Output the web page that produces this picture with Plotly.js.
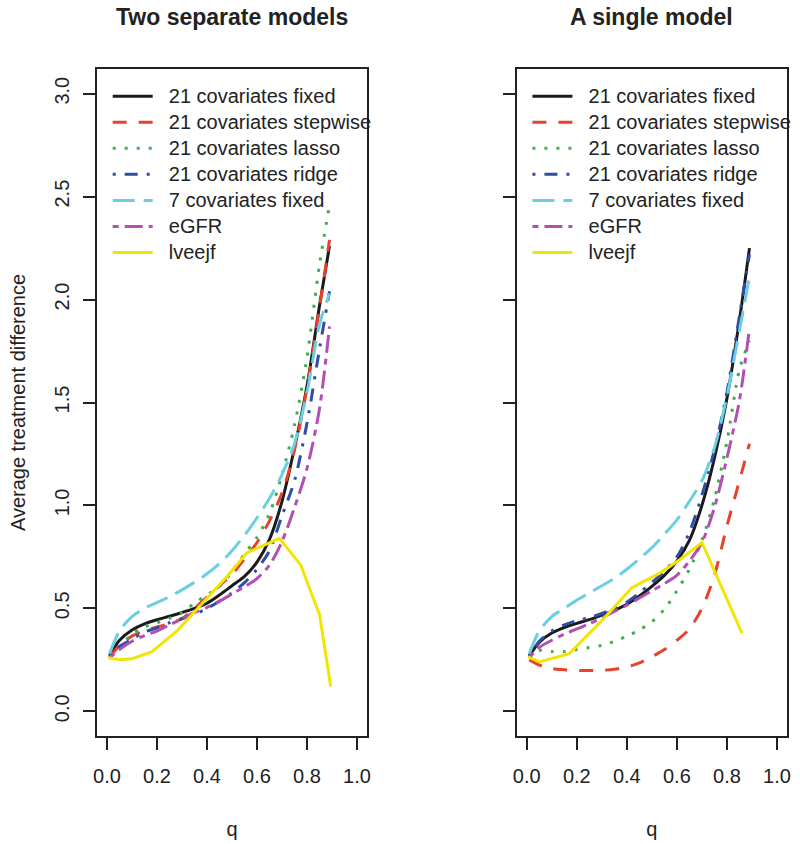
<!DOCTYPE html>
<html>
<head>
<meta charset="utf-8">
<script src="https://cdn.plot.ly/plotly-3.0.1.min.js"></script>
<style>html,body{margin:0;padding:0;background:#fff}#chart{width:800px;height:844px}</style>
</head>
<body>
<div id="chart"></div>
<script>
// ---- data ----
const q = [0.01, 0.05, 0.10, 0.15, 0.20, 0.25, 0.30, 0.35, 0.40, 0.45, 0.50, 0.55, 0.60, 0.65, 0.70, 0.75, 0.80, 0.85, 0.89];
const seriesNames = ["21 covariates fixed", "21 covariates stepwise", "21 covariates lasso", "21 covariates ridge", "7 covariates fixed", "eGFR", "lveejf"];

// Left panel: Two separate models
const sepFixed21    = [0.27, 0.345, 0.395, 0.425, 0.445, 0.462, 0.48, 0.50, 0.525, 0.565, 0.61, 0.655, 0.725, 0.835, 1.02, 1.28, 1.58, 1.97, 2.26];
const sepStepwise21 = [0.26, 0.32, 0.365, 0.39, 0.41, 0.425, 0.45, 0.50, 0.555, 0.61, 0.665, 0.74, 0.82, 0.925, 1.06, 1.27, 1.57, 1.96, 2.29];
const sepLasso21    = [0.265, 0.31, 0.375, 0.41, 0.43, 0.452, 0.48, 0.525, 0.565, 0.606, 0.68, 0.765, 0.845, 0.96, 1.15, 1.39, 1.72, 2.17, 2.46];
const sepRidge21    = [0.265, 0.315, 0.35, 0.385, 0.405, 0.43, 0.45, 0.47, 0.50, 0.535, 0.575, 0.625, 0.69, 0.78, 0.95, 1.12, 1.40, 1.76, 2.04];
const sepFixed7     = [0.28, 0.39, 0.46, 0.50, 0.528, 0.557, 0.59, 0.627, 0.668, 0.718, 0.78, 0.855, 0.94, 1.035, 1.15, 1.30, 1.55, 1.88, 2.03];
const sepEGFR       = [0.26, 0.30, 0.34, 0.368, 0.39, 0.42, 0.448, 0.48, 0.505, 0.535, 0.57, 0.605, 0.645, 0.71, 0.825, 0.99, 1.18, 1.47, 1.87];
const sepLveejfQ    = [0.005, 0.05, 0.10, 0.18, 0.28, 0.38, 0.48, 0.56, 0.64, 0.69, 0.775, 0.85, 0.895];
const sepLveejf     = [0.26, 0.25, 0.255, 0.29, 0.39, 0.525, 0.655, 0.77, 0.815, 0.84, 0.71, 0.47, 0.12];

// Right panel: A single model
const sinFixed21    = [0.27, 0.335, 0.38, 0.407, 0.427, 0.445, 0.467, 0.49, 0.52, 0.56, 0.607, 0.66, 0.73, 0.83, 1.00, 1.23, 1.52, 1.90, 2.25];
const sinStepwise21 = [0.25, 0.225, 0.208, 0.202, 0.199, 0.198, 0.199, 0.204, 0.215, 0.235, 0.265, 0.30, 0.345, 0.40, 0.50, 0.66, 0.90, 1.12, 1.30];
const sinLasso21    = [0.26, 0.295, 0.29, 0.29, 0.30, 0.31, 0.32, 0.34, 0.365, 0.395, 0.435, 0.495, 0.585, 0.69, 0.83, 1.03, 1.31, 1.66, 1.80];
const sinRidge21    = [0.265, 0.34, 0.39, 0.42, 0.44, 0.455, 0.475, 0.50, 0.53, 0.575, 0.625, 0.68, 0.75, 0.87, 1.05, 1.27, 1.55, 1.92, 2.22];
const sinFixed7     = [0.28, 0.39, 0.46, 0.50, 0.54, 0.575, 0.61, 0.645, 0.69, 0.74, 0.795, 0.86, 0.93, 1.02, 1.12, 1.28, 1.53, 1.85, 2.11];
const sinEGFR       = [0.26, 0.31, 0.345, 0.375, 0.40, 0.425, 0.455, 0.485, 0.515, 0.55, 0.585, 0.62, 0.66, 0.73, 0.82, 0.99, 1.23, 1.51, 1.86];
const sinLveejfQ    = [0.005, 0.05, 0.17, 0.30, 0.42, 0.53, 0.61, 0.70, 0.86];
const sinLveejf     = [0.265, 0.24, 0.28, 0.44, 0.60, 0.67, 0.735, 0.82, 0.38];

const xTicks = [0, 0.2, 0.4, 0.6, 0.8, 1.0];
const yTicks = [0, 0.5, 1.0, 1.5, 2.0, 2.5, 3.0];

// ---- styles ----
const colors = ["#1b1b1b", "#E8412C", "#3FAE49", "#2D4DA6", "#6ACFE2", "#B24FB2", "#F2E500"];
const dashes = ["solid", "14px,12px", "3px,9px", "3px,9px,13px,9px", "22px,9px", "6px,6px,18px,6px", "solid"];
const FONT = "Liberation Sans, Arial, Helvetica, sans-serif";

function legendLabel(name) {
  return '<span style="font-size:20px">\u00a0\u00a0' + name + '</span>';
}

function makeTraces(ySets, xSets, xa, ya, leg) {
  return ySets.map((ys, i) => ({
    type: "scatter", mode: "lines",
    x: xSets[i], y: ys, xaxis: xa, yaxis: ya,
    name: legendLabel(seriesNames[i]), legend: leg,
    line: {color: colors[i], width: 3, dash: dashes[i], shape: i === 6 ? "linear" : "spline", smoothing: 0.8}
  }));
}

const leftY = [sepFixed21, sepStepwise21, sepLasso21, sepRidge21, sepFixed7, sepEGFR, sepLveejf];
const leftX = [q, q, q, q, q, q, sepLveejfQ];
const rightY = [sinFixed21, sinStepwise21, sinLasso21, sinRidge21, sinFixed7, sinEGFR, sinLveejf];
const rightX = [q, q, q, q, q, q, sinLveejfQ];

const data = makeTraces(leftY, leftX, "x", "y", "legend").concat(makeTraces(rightY, rightX, "x2", "y2", "legend2"));

const axCommon = {
  showgrid: false, zeroline: false, showline: true, mirror: true,
  linecolor: "#222", linewidth: 2, ticks: "outside", ticklen: 12, tickwidth: 2, tickcolor: "#222",
  tickfont: {family: FONT, size: 20, color: "#222"}
};
const xAx = Object.assign({}, axCommon, {range: [-0.04, 1.04], tickvals: xTicks, tickformat: ".1f", ticklabelstandoff: 9,
  title: {text: "q", font: {family: FONT, size: 20, color: "#222"}, standoff: 36}});
const yAx = Object.assign({}, axCommon, {range: [-0.12, 3.12], tickvals: yTicks, tickformat: ".1f", tickangle: -90, ticklabelstandoff: 6});

const legCommon = {
  font: {family: FONT, size: 17.7, color: "#222"}, bgcolor: "rgba(0,0,0,0)", borderwidth: 0,
  xanchor: "left", yanchor: "top", itemwidth: 40, tracegroupgap: 0
};

const layout = {
  width: 800, height: 844,
  margin: {l: 97, r: 13, t: 69, b: 108, autoexpand: false},
  paper_bgcolor: "#fff", plot_bgcolor: "#fff",
  font: {family: FONT, color: "#222"},
  xaxis: Object.assign({}, xAx, {domain: [0, 0.3913], anchor: "y"}),
  yaxis: Object.assign({}, yAx, {domain: [0, 1], anchor: "x",
    title: {text: "Average treatment difference", font: {family: FONT, size: 20, color: "#222"}, standoff: 20}}),
  xaxis2: Object.assign({}, xAx, {domain: [0.6083, 1], anchor: "y2"}),
  yaxis2: Object.assign({}, yAx, {domain: [0, 1], anchor: "x2", showticklabels: false}),
  legend: Object.assign({}, legCommon, {x: 0.0155, y: 0.986}),
  legend2: Object.assign({}, legCommon, {x: 0.6238, y: 0.986}),
  annotations: [
    {text: "<b>Two separate models</b>", xref: "x domain", yref: "paper", x: 0.5, y: 1.078, xanchor: "center", yanchor: "middle", showarrow: false, font: {family: FONT, size: 23, color: "#222"}},
    {text: "<b>A single model</b>", xref: "x2 domain", yref: "paper", x: 0.5, y: 1.078, xanchor: "center", yanchor: "middle", showarrow: false, font: {family: FONT, size: 23, color: "#222"}}
  ],
  showlegend: true
};

Plotly.newPlot("chart", data, layout, {displayModeBar: false, staticPlot: true});
</script>
</body>
</html>
